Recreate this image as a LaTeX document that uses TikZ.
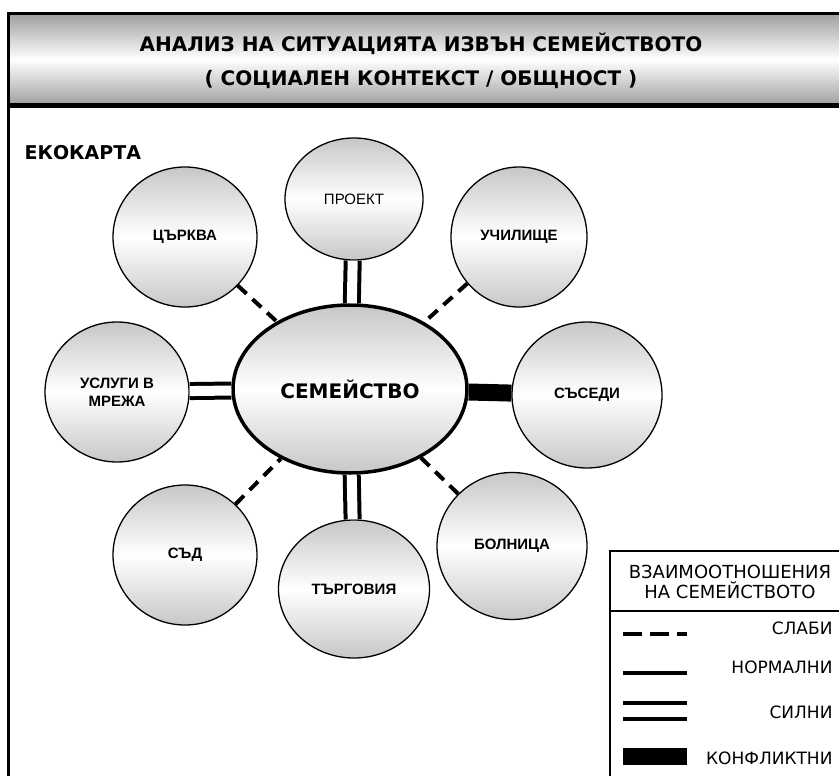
\documentclass[tikz,border=0pt]{standalone}
\usepackage{fontspec}
\setmainfont{Liberation Sans}
\newfontfamily\verd{DejaVu Sans}
\usetikzlibrary{shapes.geometric}
\newcommand{\lbl}{\fontsize{15}{18}\selectfont}
\newcommand{\legendrow}[4] {
    \draw[#3] (623,#2) -- (687,#2);
    \node[anchor=east, font=\verd\fontsize{17}{19}\selectfont]
        (#4) at (836,#1) {#4};
}
\tikzset{
    x=1pt,
    y=-1pt,
    frame/.style={line width=3.5pt},
    title/.style={font=\verd\bfseries\fontsize{20}{24}\selectfont},
    place/.style={draw, line width=1.3pt, ellipse, inner sep=0, align=center,
        top color=black!22, bottom color=black!22, middle color=white,
        font=\lbl\bfseries, minimum width=144, minimum height=140},
    family/.style={place, line width=3.5pt, minimum width=234, minimum height=168,
        font=\verd\bfseries\fontsize{20}{24}\selectfont},
    weak/.style={line width=4pt, dash pattern=on 12pt off 8pt},
    normal/.style={line width=4pt},
    strong/.style={line width=4pt, double, double distance=10pt},
    conflict/.style={line width=17pt},
}

\begin{document}
\begin{tikzpicture}
    \useasboundingbox (0,0) rectangle (839,776);
    \draw[frame, top color=black!38, bottom color=black!38, middle color=white]
        (8.5,13.5) rectangle (870,105.5);
    \draw[line width=5pt] (8.5,105.5) -- (870,105.5);
    \draw[frame] (8.5,13.5) -- (8.5,800);
    \node[title] (title) at (421,44) {АНАЛИЗ НА СИТУАЦИЯТА ИЗВЪН СЕМЕЙСТВОТО};
    \node[title] (subtitle) at (421,79) {( СОЦИАЛЕН КОНТЕКСТ / ОБЩНОСТ )};
    \node[title, anchor=west, font=\verd\bfseries\fontsize{19}{22}\selectfont]
        (ecomap) at (21,153) {ЕКОКАРТА};

    \node[family] (family) at (350,389) {СЕМЕЙСТВО};
    \node[place, font=\lbl, minimum width=138, minimum height=122]
        (project) at (354,199) {ПРОЕКТ};
    \node[place] (church) at (185,237) {ЦЪРКВА};
    \node[place, minimum width=136] (school) at (519,237) {УЧИЛИЩЕ};
    \node[place] (services) at (117,392) {УСЛУГИ В\\МРЕЖА};
    \node[place, minimum width=150, minimum height=146] (neighbours) at (587,395) {СЪСЕДИ};
    \node[place] (court) at (185,555) {СЪД};
    \node[place, minimum width=151, minimum height=138] (trade) at (354,589) {ТЪРГОВИЯ};
    \node[place, minimum width=150, minimum height=147] (hospital) at (512,546) {БОЛНИЦА};

    \draw[strong] (project) -- (family);
    \draw[weak] (church) -- (family);
    \draw[weak] (school) -- (family);
    \draw[strong] (services) -- (family);
    \draw[conflict] (neighbours) -- (family);
    \draw[weak] (court) -- (family);
    \draw[strong] (trade) -- (family);
    \draw[weak] (hospital) -- (family);

    \draw[line width=1.3pt] (870,551) -| (610,800);
    \draw[line width=1.3pt] (610,611) -- (870,611);
    \node[align=center, font=\verd\fontsize{18}{19.5}\selectfont]
        (legend) at (730,582) {ВЗАИМООТНОШЕНИЯ\\НА СЕМЕЙСТВОТО};
    \legendrow{628}{634}{line width=4pt, dash pattern=on 19pt off 8pt}{СЛАБИ}
    \legendrow{667}{673}{normal}{НОРМАЛНИ}
    \legendrow{712}{711}{line width=4pt, double, double distance=12pt}{СИЛНИ}
    \legendrow{758}{756.5}{line width=17pt}{КОНФЛИКТНИ}
\end{tikzpicture}
\end{document}
